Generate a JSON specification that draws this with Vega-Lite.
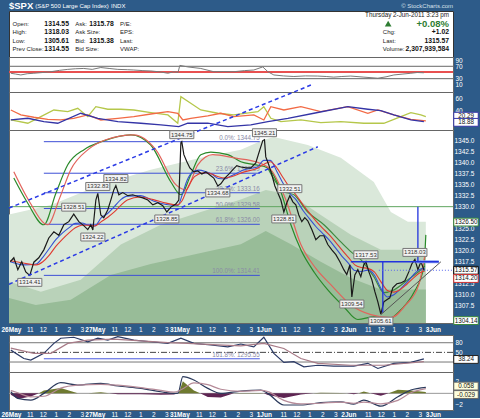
{
"$schema":"https://vega.github.io/schema/vega-lite/v6.json",
"background":"#2d5b89",
"padding":{"left":0,"top":0,"right":3,"bottom":0},
"bounds":"flush",
"spacing":0,
"resolve":{"scale":{"color":"independent","stroke":"independent"}},
"config":{"font":"Liberation Sans","view":{"stroke":"#666","fill":"white"},
"axis":{"labelColor":"white","labelFont":"Liberation Sans","labelFontSize":6.5,"domain":false,"grid":false,"ticks":false,"title":null,"labelPadding":2,"labelOverlap":false,"labelBound":false,"tickCount":200}},
"datasets":{
"price":[{"t":0,"p":1317.5},{"t":0.27,"p":1318.4},{"t":0.58,"p":1315.7},{"t":0.88,"p":1317.5},{"t":1.19,"p":1315.2},{"t":1.5,"p":1314.41},{"t":1.81,"p":1317.4},{"t":2.19,"p":1318.4},{"t":2.58,"p":1320.2},{"t":2.96,"p":1322.9},{"t":3.35,"p":1324.3},{"t":3.73,"p":1323.5},{"t":4.12,"p":1325.9},{"t":4.5,"p":1326.6},{"t":4.88,"p":1328.3},{"t":5.27,"p":1326.6},{"t":5.65,"p":1325.7},{"t":5.96,"p":1324.8},{"t":6.19,"p":1325.9},{"t":6.35,"p":1324.7},{"t":6.58,"p":1331.5},{"t":6.73,"p":1333.0},{"t":6.96,"p":1328.1},{"t":7.19,"p":1327.5},{"t":7.5,"p":1329.3},{"t":7.73,"p":1331.5},{"t":7.96,"p":1333.8},{"t":8.12,"p":1334.8},{"t":8.35,"p":1332.7},{"t":8.65,"p":1333.2},{"t":9.04,"p":1332.5},{"t":9.42,"p":1332.7},{"t":9.81,"p":1332.3},{"t":10.19,"p":1332.0},{"t":10.58,"p":1331.5},{"t":10.96,"p":1330.4},{"t":11.35,"p":1330.9},{"t":11.73,"p":1330.2},{"t":12.04,"p":1328.8},{"t":12.35,"p":1329.9},{"t":12.73,"p":1330.6},{"t":12.96,"p":1331.5},{"t":13.12,"p":1344.5},{"t":13.19,"p":1344.75},{"t":13.35,"p":1341.8},{"t":13.58,"p":1340.2},{"t":13.81,"p":1338.8},{"t":14.12,"p":1337.9},{"t":14.42,"p":1338.1},{"t":14.73,"p":1337.4},{"t":15.04,"p":1337.9},{"t":15.35,"p":1337.2},{"t":15.65,"p":1336.5},{"t":15.96,"p":1334.7},{"t":16.19,"p":1335.2},{"t":16.5,"p":1336.5},{"t":16.81,"p":1337.4},{"t":17.12,"p":1338.4},{"t":17.42,"p":1339.3},{"t":17.73,"p":1339.0},{"t":18.12,"p":1338.8},{"t":18.5,"p":1338.8},{"t":18.88,"p":1339.9},{"t":19.19,"p":1342.9},{"t":19.42,"p":1345.0},{"t":19.55,"p":1345.2},{"t":19.65,"p":1341.3},{"t":19.88,"p":1339.5},{"t":20.12,"p":1337.2},{"t":20.35,"p":1334.7},{"t":20.58,"p":1333.1},{"t":20.81,"p":1331.5},{"t":21.04,"p":1328.8},{"t":21.27,"p":1330.9},{"t":21.5,"p":1332.5},{"t":21.73,"p":1331.1},{"t":21.96,"p":1330.4},{"t":22.19,"p":1328.1},{"t":22.42,"p":1326.6},{"t":22.65,"p":1327.5},{"t":22.88,"p":1326.8},{"t":23.19,"p":1324.8},{"t":23.5,"p":1322.5},{"t":23.81,"p":1323.4},{"t":24.12,"p":1323.4},{"t":24.42,"p":1321.4},{"t":24.73,"p":1320.2},{"t":25.04,"p":1319.1},{"t":25.35,"p":1317.5},{"t":25.65,"p":1315.7},{"t":25.88,"p":1314.6},{"t":26.12,"p":1316.8},{"t":26.27,"p":1309.5},{"t":26.5,"p":1314.5},{"t":26.73,"p":1315.7},{"t":26.96,"p":1314.1},{"t":27.19,"p":1316.8},{"t":27.35,"p":1317.5},{"t":27.58,"p":1315.2},{"t":27.81,"p":1313.4},{"t":28.04,"p":1310.7},{"t":28.27,"p":1308.4},{"t":28.5,"p":1305.61},{"t":28.73,"p":1308.4},{"t":28.96,"p":1308.9},{"t":29.19,"p":1309.3},{"t":29.42,"p":1311.6},{"t":29.73,"p":1312.5},{"t":30.04,"p":1312.7},{"t":30.35,"p":1313.2},{"t":30.65,"p":1315.2},{"t":30.88,"p":1317.0},{"t":31.12,"p":1318.03},{"t":31.35,"p":1315.7},{"t":31.58,"p":1317.5},{"t":31.81,"p":1315.7},{"t":31.88,"p":1315.57}],
"overlays":[
{"s":"fast","t":0,"v":1317.5},{"s":"fast","t":1,"v":1316.8},{"s":"fast","t":2,"v":1317},{"s":"fast","t":2.5,"v":1318.5},{"s":"fast","t":3,"v":1320.5},{"s":"fast","t":3.5,"v":1322.5},{"s":"fast","t":4,"v":1324},{"s":"fast","t":4.5,"v":1325.2},{"s":"fast","t":5,"v":1326.2},{"s":"fast","t":5.5,"v":1326.3},{"s":"fast","t":6,"v":1325.8},{"s":"fast","t":6.5,"v":1325.6},{"s":"fast","t":7,"v":1327.5},{"s":"fast","t":7.5,"v":1328.5},{"s":"fast","t":8,"v":1330},{"s":"fast","t":8.5,"v":1331.6},{"s":"fast","t":9,"v":1332.4},{"s":"fast","t":10,"v":1332.5},{"s":"fast","t":11,"v":1331.3},{"s":"fast","t":12,"v":1330.5},{"s":"fast","t":12.9,"v":1330.3},{"s":"fast","t":13.2,"v":1332.5},{"s":"fast","t":13.6,"v":1336},{"s":"fast","t":14,"v":1337.8},{"s":"fast","t":14.5,"v":1338.3},{"s":"fast","t":15,"v":1338},{"s":"fast","t":15.5,"v":1337.4},{"s":"fast","t":16,"v":1336.4},{"s":"fast","t":16.5,"v":1336.3},{"s":"fast","t":17,"v":1337},{"s":"fast","t":18,"v":1338.4},{"s":"fast","t":19,"v":1339},{"s":"fast","t":19.5,"v":1340.5},{"s":"fast","t":20,"v":1340.5},{"s":"fast","t":20.5,"v":1338},{"s":"fast","t":21,"v":1335.2},{"s":"fast","t":21.5,"v":1333},{"s":"fast","t":22,"v":1331.5},{"s":"fast","t":22.5,"v":1329.2},{"s":"fast","t":23,"v":1327.3},{"s":"fast","t":23.5,"v":1325.5},{"s":"fast","t":24,"v":1324},{"s":"fast","t":24.5,"v":1322.5},{"s":"fast","t":25,"v":1320.7},{"s":"fast","t":25.5,"v":1318.8},{"s":"fast","t":26,"v":1317.2},{"s":"fast","t":26.5,"v":1315.5},{"s":"fast","t":27,"v":1315.3},{"s":"fast","t":27.5,"v":1315.6},{"s":"fast","t":28,"v":1314.5},{"s":"fast","t":28.5,"v":1311.5},{"s":"fast","t":29,"v":1309.5},{"s":"fast","t":29.5,"v":1310},{"s":"fast","t":30,"v":1311.3},{"s":"fast","t":30.5,"v":1312.8},{"s":"fast","t":31,"v":1314.5},{"s":"fast","t":31.5,"v":1315.8},{"s":"fast","t":31.88,"v":1316},
{"s":"slow","t":0,"v":1317.8},{"s":"slow","t":1,"v":1317.2},{"s":"slow","t":2,"v":1316.8},{"s":"slow","t":2.5,"v":1317.5},{"s":"slow","t":3,"v":1319},{"s":"slow","t":3.5,"v":1321},{"s":"slow","t":4,"v":1322.6},{"s":"slow","t":4.5,"v":1324},{"s":"slow","t":5,"v":1325.2},{"s":"slow","t":5.5,"v":1325.8},{"s":"slow","t":6,"v":1325.8},{"s":"slow","t":6.5,"v":1325.6},{"s":"slow","t":7,"v":1326.6},{"s":"slow","t":7.5,"v":1327.6},{"s":"slow","t":8,"v":1328.8},{"s":"slow","t":8.5,"v":1330.3},{"s":"slow","t":9,"v":1331.5},{"s":"slow","t":10,"v":1332.2},{"s":"slow","t":11,"v":1331.6},{"s":"slow","t":12,"v":1330.8},{"s":"slow","t":12.8,"v":1330.4},{"s":"slow","t":13.2,"v":1331.3},{"s":"slow","t":13.6,"v":1334},{"s":"slow","t":14,"v":1336.2},{"s":"slow","t":14.5,"v":1337.4},{"s":"slow","t":15,"v":1337.7},{"s":"slow","t":15.5,"v":1337.4},{"s":"slow","t":16,"v":1336.8},{"s":"slow","t":16.5,"v":1336.5},{"s":"slow","t":17,"v":1336.8},{"s":"slow","t":18,"v":1337.9},{"s":"slow","t":19,"v":1338.7},{"s":"slow","t":19.5,"v":1339.6},{"s":"slow","t":20,"v":1340.2},{"s":"slow","t":20.5,"v":1338.8},{"s":"slow","t":21,"v":1336.5},{"s":"slow","t":21.5,"v":1334.3},{"s":"slow","t":22,"v":1332.6},{"s":"slow","t":22.5,"v":1330.5},{"s":"slow","t":23,"v":1328.6},{"s":"slow","t":23.5,"v":1326.8},{"s":"slow","t":24,"v":1325.2},{"s":"slow","t":24.5,"v":1323.7},{"s":"slow","t":25,"v":1322},{"s":"slow","t":25.5,"v":1320.2},{"s":"slow","t":26,"v":1318.5},{"s":"slow","t":26.5,"v":1316.8},{"s":"slow","t":27,"v":1316.2},{"s":"slow","t":27.5,"v":1316},{"s":"slow","t":28,"v":1315.2},{"s":"slow","t":28.5,"v":1313},{"s":"slow","t":29,"v":1311},{"s":"slow","t":29.5,"v":1310.6},{"s":"slow","t":30,"v":1311.2},{"s":"slow","t":30.5,"v":1312.4},{"s":"slow","t":31,"v":1313.8},{"s":"slow","t":31.5,"v":1315},{"s":"slow","t":31.88,"v":1315.4},
{"s":"band","t":19.8,"v":1338.8},{"s":"band","t":21.04,"v":1333.4},{"s":"band","t":21.81,"v":1332.7},{"s":"band","t":22.88,"v":1328.8},{"s":"band","t":24.12,"v":1325.9},{"s":"band","t":25.42,"v":1322},{"s":"band","t":26.19,"v":1319.8},{"s":"band","t":26.96,"v":1318},{"s":"band","t":27.96,"v":1314.1},{"s":"band","t":28.73,"v":1310.5},{"s":"band","t":29.5,"v":1311.1},{"s":"band","t":30.58,"v":1313.4},{"s":"band","t":31.58,"v":1315.7},{"s":"band","t":31.88,"v":1316.5},
{"s":"envG","t":0.27,"v":1336.5},{"s":"envG","t":1.3,"v":1331},{"s":"envG","t":2.58,"v":1325.9},{"s":"envG","t":3.5,"v":1333},{"s":"envG","t":4.42,"v":1339.5},{"s":"envG","t":5.7,"v":1343},{"s":"envG","t":6.96,"v":1344.7},{"s":"envG","t":9.27,"v":1346.3},{"s":"envG","t":10.8,"v":1344},{"s":"envG","t":12.35,"v":1335.6},{"s":"envG","t":13.12,"v":1332.7},{"s":"envG","t":13.88,"v":1337.2},{"s":"envG","t":14.65,"v":1341.8},{"s":"envG","t":15.42,"v":1342.4},{"s":"envG","t":16.73,"v":1341.8},{"s":"envG","t":17.73,"v":1340.2},{"s":"envG","t":18.88,"v":1339.5},{"s":"envG","t":19.8,"v":1338.8},{"s":"envG","t":20.81,"v":1333.4},{"s":"envG","t":21.58,"v":1325.9},{"s":"envG","t":22.35,"v":1320.2},{"s":"envG","t":23.4,"v":1315},{"s":"envG","t":24.42,"v":1311.1},{"s":"envG","t":25.65,"v":1307.3},{"s":"envG","t":26.73,"v":1304.4},{"s":"envG","t":27.96,"v":1305},{"s":"envG","t":29.04,"v":1304.4},{"s":"envG","t":30.04,"v":1306.6},{"s":"envG","t":31.04,"v":1310.5},{"s":"envG","t":31.81,"v":1316.4},{"s":"envG","t":31.96,"v":1323.6},
{"s":"envR","t":0.27,"v":1337.9},{"s":"envR","t":1.5,"v":1331},{"s":"envR","t":2.88,"v":1325.9},{"s":"envR","t":3.8,"v":1332},{"s":"envR","t":4.65,"v":1338.4},{"s":"envR","t":6,"v":1343},{"s":"envR","t":7.35,"v":1345.2},{"s":"envR","t":9.5,"v":1346.3},{"s":"envR","t":11.2,"v":1342.9},{"s":"envR","t":12.73,"v":1335},{"s":"envR","t":13.5,"v":1333.8},{"s":"envR","t":14.42,"v":1339.5},{"s":"envR","t":15.58,"v":1341.8},{"s":"envR","t":17.35,"v":1341},{"s":"envR","t":18.88,"v":1340.2},{"s":"envR","t":20.04,"v":1338.4},{"s":"envR","t":21.2,"v":1331.5},{"s":"envR","t":22.35,"v":1321.4},{"s":"envR","t":23.5,"v":1316},{"s":"envR","t":24.65,"v":1312.3},{"s":"envR","t":26.19,"v":1307.7},{"s":"envR","t":27.73,"v":1305.5},{"s":"envR","t":29.27,"v":1304.8},{"s":"envR","t":30.42,"v":1307.7},{"s":"envR","t":31.42,"v":1312.3},{"s":"envR","t":31.96,"v":1320.2}],
"bands":[
{"zone":"outer","t":-0.1,"p":1328.2},{"zone":"outer","t":3.12,"p":1330.4},{"zone":"outer","t":6.96,"p":1335},{"zone":"outer","t":10.8,"p":1338.4},{"zone":"outer","t":14.65,"p":1341.1},{"zone":"outer","t":17.73,"p":1342.9},{"zone":"outer","t":19.5,"p":1345.2},{"zone":"outer","t":20.27,"p":1345.8},{"zone":"outer","t":22.88,"p":1344},{"zone":"outer","t":25.42,"p":1341.1},{"zone":"outer","t":27.96,"p":1335.6},{"zone":"outer","t":29.27,"p":1328.8},{"zone":"outer","t":30.58,"p":1326.6},{"zone":"outer","t":31.96,"p":1326.6},
{"zone":"middle","t":-0.1,"p":1313},{"zone":"middle","t":2.35,"p":1310.7},{"zone":"middle","t":5.42,"p":1313.4},{"zone":"middle","t":8.5,"p":1321.4},{"zone":"middle","t":11.58,"p":1325.9},{"zone":"middle","t":14.65,"p":1328.8},{"zone":"middle","t":17.73,"p":1331.6},{"zone":"middle","t":19.65,"p":1333.8},{"zone":"middle","t":21.58,"p":1332.7},{"zone":"middle","t":23.88,"p":1328.1},{"zone":"middle","t":26.19,"p":1323.6},{"zone":"middle","t":28.5,"p":1320.2},{"zone":"middle","t":30.81,"p":1320.2},{"zone":"middle","t":31.96,"p":1320.2},
{"zone":"inner","t":-0.1,"p":1309.3},{"zone":"inner","t":1.96,"p":1307.7},{"zone":"inner","t":4.65,"p":1308.9},{"zone":"inner","t":7.73,"p":1314.5},{"zone":"inner","t":10.8,"p":1317},{"zone":"inner","t":14.65,"p":1319.5},{"zone":"inner","t":17.73,"p":1321.5},{"zone":"inner","t":19.65,"p":1324.5},{"zone":"inner","t":21.58,"p":1321.5},{"zone":"inner","t":23.88,"p":1317.5},{"zone":"inner","t":26.19,"p":1313.8},{"zone":"inner","t":28.5,"p":1311.2},{"zone":"inner","t":30.81,"p":1311.2},{"zone":"inner","t":31.96,"p":1311.2}],
"fib":[{"level":"0.0%","price":1344.75},{"level":"23.6%","price":1337.59},{"level":"38.2%","price":1333.16},{"level":"50.0%","price":1329.58},{"level":"61.8%","price":1326.00},{"level":"100.0%","price":1314.41}],
"pivots":[{"kind":"high","t":13.19,"p":1344.75,"label":"1344.75"},{"kind":"high","t":19.55,"p":1345.2,"label":"1345.21"},{"kind":"high","t":4.88,"p":1328.3,"label":"1328.51"},{"kind":"high","t":6.73,"p":1333.0,"label":"1332.83"},{"kind":"high","t":8.12,"p":1334.8,"label":"1334.82"},{"kind":"high","t":21.5,"p":1332.5,"label":"1332.51"},{"kind":"high","t":27.35,"p":1317.5,"label":"1317.53"},{"kind":"high","t":31.12,"p":1318.03,"label":"1318.03"},
{"kind":"low","t":1.5,"p":1314.41,"label":"1314.41"},{"kind":"low","t":6.35,"p":1324.7,"label":"1324.22"},{"kind":"low","t":12.04,"p":1328.8,"label":"1328.85"},{"kind":"low","t":15.96,"p":1334.7,"label":"1334.68"},{"kind":"low","t":21.04,"p":1328.8,"label":"1328.81"},{"kind":"low","t":26.27,"p":1309.5,"label":"1309.54"},{"kind":"low","t":28.5,"p":1305.61,"label":"1305.61"}],
"lines":[{"kind":"trendUp","t1":-0.1,"p1":1329.7,"t2":23.12,"p2":1357.6},{"kind":"trendLow","t1":-0.1,"p1":1312.4,"t2":23.65,"p2":1343.6},
{"kind":"blue","t1":26.19,"p1":1317.5,"t2":32.96,"p2":1317.5},{"kind":"blue","t1":28.65,"p1":1317.5,"t2":28.65,"p2":1305.9},{"kind":"blue","t1":31.35,"p1":1330,"t2":31.35,"p2":1317.5},
{"kind":"light","t1":31.2,"p1":1317.5,"t2":32.96,"p2":1317.5},{"kind":"gray","t1":28.5,"p1":1305.5,"t2":33.12,"p2":1317.5},{"kind":"dotted","t1":28.35,"p1":1315.57,"t2":34.05,"p2":1315.57}],
"rsi":[{"t":0.04,"v":47.5},{"t":0.4,"v":45},{"t":0.81,"v":42},{"t":1.3,"v":46},{"t":1.81,"v":47.5},{"t":2.5,"v":50},{"t":3.12,"v":52.5},{"t":3.8,"v":57},{"t":4.42,"v":60},{"t":5.0,"v":62},{"t":5.65,"v":63},{"t":6.3,"v":60},{"t":6.96,"v":66},{"t":7.6,"v":63},{"t":8.27,"v":60},{"t":9.0,"v":59},{"t":9.5,"v":58},{"t":10.2,"v":56},{"t":10.81,"v":55},{"t":11.5,"v":52},{"t":12.12,"v":47.5},{"t":12.58,"v":52.5},{"t":12.9,"v":50},{"t":13.04,"v":73},{"t":13.65,"v":68},{"t":14.65,"v":63},{"t":15.65,"v":52.5},{"t":16.4,"v":53},{"t":17.19,"v":52.5},{"t":18.0,"v":56},{"t":18.73,"v":58},{"t":19.42,"v":68},{"t":19.81,"v":52.5},{"t":20.27,"v":42},{"t":21.0,"v":39},{"t":21.81,"v":37},{"t":22.7,"v":39},{"t":23.65,"v":38.5},{"t":24.3,"v":37},{"t":24.88,"v":35},{"t":25.5,"v":37},{"t":26.19,"v":38.5},{"t":27.2,"v":35},{"t":28.27,"v":31.5},{"t":28.9,"v":36},{"t":29.5,"v":42},{"t":30.2,"v":45},{"t":30.81,"v":47.5},{"t":31.3,"v":50},{"t":31.81,"v":49}],
"adx":[{"s":"+DI","t":0.04,"v":22.8},{"s":"+DI","t":1.35,"v":17},{"s":"+DI","t":2.35,"v":28.7},{"s":"+DI","t":3.35,"v":40.5},{"s":"+DI","t":4.42,"v":37.5},{"s":"+DI","t":5.19,"v":43.5},{"s":"+DI","t":5.96,"v":28.7},{"s":"+DI","t":6.58,"v":46.4},{"s":"+DI","t":7.5,"v":41.8},{"s":"+DI","t":8.5,"v":41.8},{"s":"+DI","t":9.5,"v":40.5},{"s":"+DI","t":10.81,"v":35.8},{"s":"+DI","t":12.12,"v":31.7},{"s":"+DI","t":12.88,"v":17},{"s":"+DI","t":13.12,"v":64},{"s":"+DI","t":13.88,"v":52.4},{"s":"+DI","t":14.65,"v":40.5},{"s":"+DI","t":15.96,"v":34.7},{"s":"+DI","t":17.19,"v":31.7},{"s":"+DI","t":19.04,"v":37.5},{"s":"+DI","t":19.5,"v":46.4},{"s":"+DI","t":20.04,"v":25.8},{"s":"+DI","t":20.81,"v":19.8},{"s":"+DI","t":22.35,"v":22.8},{"s":"+DI","t":23.88,"v":18},{"s":"+DI","t":25.42,"v":19.8},{"s":"+DI","t":27.19,"v":17},{"s":"+DI","t":28.73,"v":17},{"s":"+DI","t":30.04,"v":28.7},{"s":"+DI","t":30.81,"v":35.8},{"s":"+DI","t":31.58,"v":31.7},{"s":"+DI","t":31.96,"v":28.7},
{"s":"-DI","t":0.04,"v":40.5},{"s":"-DI","t":0.81,"v":31.7},{"s":"-DI","t":1.81,"v":27.6},{"s":"-DI","t":2.88,"v":24},{"s":"-DI","t":3.88,"v":22.8},{"s":"-DI","t":4.88,"v":25.8},{"s":"-DI","t":5.96,"v":31.7},{"s":"-DI","t":6.96,"v":22.8},{"s":"-DI","t":8.27,"v":25.8},{"s":"-DI","t":9.5,"v":28.7},{"s":"-DI","t":10.81,"v":33.4},{"s":"-DI","t":12.12,"v":37.5},{"s":"-DI","t":12.88,"v":34.7},{"s":"-DI","t":13.27,"v":22.8},{"s":"-DI","t":13.88,"v":25.8},{"s":"-DI","t":15.19,"v":29.9},{"s":"-DI","t":16.19,"v":34.7},{"s":"-DI","t":17.19,"v":28.7},{"s":"-DI","t":18.73,"v":31.7},{"s":"-DI","t":19.5,"v":22.8},{"s":"-DI","t":20.04,"v":46.4},{"s":"-DI","t":21.04,"v":40.5},{"s":"-DI","t":22.35,"v":46.4},{"s":"-DI","t":23.88,"v":37.5},{"s":"-DI","t":25.96,"v":46.4},{"s":"-DI","t":27.5,"v":34.7},{"s":"-DI","t":28.27,"v":40.5},{"s":"-DI","t":29.5,"v":31.7},{"s":"-DI","t":30.81,"v":24},{"s":"-DI","t":31.96,"v":21},
{"s":"ADX","t":0.04,"v":22.8},{"s":"ADX","t":1.35,"v":25.8},{"s":"ADX","t":2.58,"v":19.8},{"s":"ADX","t":3.65,"v":17},{"s":"ADX","t":5.42,"v":34.7},{"s":"ADX","t":6.73,"v":25.8},{"s":"ADX","t":8.27,"v":19.8},{"s":"ADX","t":10.04,"v":17},{"s":"ADX","t":11.58,"v":14},{"s":"ADX","t":12.96,"v":11},{"s":"ADX","t":13.65,"v":17},{"s":"ADX","t":15.19,"v":17},{"s":"ADX","t":16.73,"v":11},{"s":"ADX","t":18.5,"v":14},{"s":"ADX","t":19.81,"v":19.8},{"s":"ADX","t":21.35,"v":25.8},{"s":"ADX","t":23.35,"v":34.7},{"s":"ADX","t":25.96,"v":46.4},{"s":"ADX","t":27.5,"v":41.8},{"s":"ADX","t":28.5,"v":39.3},{"s":"ADX","t":29.5,"v":31.7},{"s":"ADX","t":30.81,"v":22.8},{"s":"ADX","t":31.81,"v":19.8}],
"osc":[{"s":"fast","t":0.04,"v":57},{"s":"fast","t":1.04,"v":31},{"s":"fast","t":1.58,"v":26},{"s":"fast","t":2.58,"v":47},{"s":"fast","t":3.35,"v":78},{"s":"fast","t":3.88,"v":94},{"s":"fast","t":4.88,"v":97},{"s":"fast","t":5.96,"v":83},{"s":"fast","t":6.73,"v":94},{"s":"fast","t":7.5,"v":88},{"s":"fast","t":8.27,"v":99},{"s":"fast","t":9.5,"v":88},{"s":"fast","t":10.81,"v":83},{"s":"fast","t":12.12,"v":78},{"s":"fast","t":13.12,"v":94},{"s":"fast","t":14.12,"v":78},{"s":"fast","t":15.42,"v":73},{"s":"fast","t":16.73,"v":67},{"s":"fast","t":17.73,"v":76},{"s":"fast","t":18.73,"v":67},{"s":"fast","t":19.5,"v":97},{"s":"fast","t":20.27,"v":47},{"s":"fast","t":21.04,"v":19},{"s":"fast","t":21.81,"v":21},{"s":"fast","t":22.58,"v":5},{"s":"fast","t":23.65,"v":10},{"s":"fast","t":24.88,"v":7},{"s":"fast","t":26.42,"v":7},{"s":"fast","t":27.5,"v":16},{"s":"fast","t":28.27,"v":0},{"s":"fast","t":29.5,"v":16},{"s":"fast","t":30.81,"v":19},{"s":"fast","t":31.81,"v":30},
{"s":"slow","t":0.04,"v":63},{"s":"slow","t":1.81,"v":47},{"s":"slow","t":3.12,"v":47},{"s":"slow","t":4.42,"v":78},{"s":"slow","t":5.96,"v":88},{"s":"slow","t":7.96,"v":91},{"s":"slow","t":10.04,"v":86},{"s":"slow","t":12.12,"v":80},{"s":"slow","t":13.65,"v":78},{"s":"slow","t":15.96,"v":73},{"s":"slow","t":17.73,"v":70},{"s":"slow","t":19.5,"v":78},{"s":"slow","t":21.04,"v":62},{"s":"slow","t":22.35,"v":31},{"s":"slow","t":23.65,"v":16},{"s":"slow","t":26.19,"v":10},{"s":"slow","t":28.73,"v":10},{"s":"slow","t":31.81,"v":21}],
"macd":[{"s":"macd","t":0.04,"v":0.28},{"s":"macd","t":0.58,"v":-0.86},{"s":"macd","t":1.58,"v":-1.16},{"s":"macd","t":2.58,"v":0},{"s":"macd","t":3.88,"v":1.83},{"s":"macd","t":5.19,"v":1.43},{"s":"macd","t":6.96,"v":1.72},{"s":"macd","t":8.27,"v":1.26},{"s":"macd","t":10.04,"v":0.86},{"s":"macd","t":11.58,"v":0.28},{"s":"macd","t":12.58,"v":0},{"s":"macd","t":12.9,"v":0.05},{"s":"macd","t":13.27,"v":2.86},{"s":"macd","t":14.12,"v":2.3},{"s":"macd","t":15.19,"v":0.86},{"s":"macd","t":16.19,"v":0},{"s":"macd","t":17.73,"v":0.4},{"s":"macd","t":19.27,"v":0.57},{"s":"macd","t":19.81,"v":0},{"s":"macd","t":21.04,"v":-2},{"s":"macd","t":22.35,"v":-2},{"s":"macd","t":23.88,"v":-1.6},{"s":"macd","t":25.42,"v":-1.45},{"s":"macd","t":26.42,"v":-1.85},{"s":"macd","t":27.19,"v":-1.16},{"s":"macd","t":28.5,"v":-2.2},{"s":"macd","t":29.81,"v":-0.58},{"s":"macd","t":30.81,"v":0.57},{"s":"macd","t":31.96,"v":1.04},
{"s":"signal","t":0.04,"v":0.5},{"s":"signal","t":0.58,"v":0.1},{"s":"signal","t":1.58,"v":-0.6},{"s":"signal","t":2.58,"v":-0.5},{"s":"signal","t":3.88,"v":0.9},{"s":"signal","t":5.19,"v":1.4},{"s":"signal","t":6.96,"v":1.55},{"s":"signal","t":8.27,"v":1.4},{"s":"signal","t":10.04,"v":1.0},{"s":"signal","t":11.58,"v":0.5},{"s":"signal","t":12.58,"v":0.2},{"s":"signal","t":13.27,"v":0.8},{"s":"signal","t":14.12,"v":1.8},{"s":"signal","t":15.19,"v":1.5},{"s":"signal","t":16.19,"v":0.7},{"s":"signal","t":17.73,"v":0.35},{"s":"signal","t":19.27,"v":0.5},{"s":"signal","t":19.81,"v":0.3},{"s":"signal","t":21.04,"v":-1.2},{"s":"signal","t":22.35,"v":-1.8},{"s":"signal","t":23.88,"v":-1.7},{"s":"signal","t":25.42,"v":-1.5},{"s":"signal","t":26.42,"v":-1.7},{"s":"signal","t":27.19,"v":-1.5},{"s":"signal","t":28.5,"v":-1.8},{"s":"signal","t":29.81,"v":-1.2},{"s":"signal","t":30.81,"v":0.1},{"s":"signal","t":31.96,"v":0.8}],
"hist":[{"sign":"pos","t":0.04,"h":0},{"sign":"pos","t":2.2,"h":0},{"sign":"pos","t":2.58,"h":0.5},{"sign":"pos","t":3.88,"h":0.93},{"sign":"pos","t":5.19,"h":0.03},{"sign":"pos","t":6.0,"h":0},{"sign":"pos","t":6.96,"h":0.17},{"sign":"pos","t":7.6,"h":0},{"sign":"pos","t":12.95,"h":0},{"sign":"pos","t":13.27,"h":2.06},{"sign":"pos","t":14.12,"h":0.5},{"sign":"pos","t":14.6,"h":0},{"sign":"pos","t":17.2,"h":0},{"sign":"pos","t":17.73,"h":0.05},{"sign":"pos","t":19.27,"h":0.07},{"sign":"pos","t":19.5,"h":0},{"sign":"pos","t":23.3,"h":0},{"sign":"pos","t":23.88,"h":0.1},{"sign":"pos","t":25.42,"h":0.05},{"sign":"pos","t":25.9,"h":0},{"sign":"pos","t":26.8,"h":0},{"sign":"pos","t":27.19,"h":0.34},{"sign":"pos","t":27.7,"h":0},{"sign":"pos","t":29.1,"h":0},{"sign":"pos","t":29.81,"h":0.62},{"sign":"pos","t":30.81,"h":0.47},{"sign":"pos","t":31.96,"h":0.24},
{"sign":"neg","t":0.04,"h":-0.22},{"sign":"neg","t":0.58,"h":-0.96},{"sign":"neg","t":1.58,"h":-0.56},{"sign":"neg","t":2.2,"h":0},{"sign":"neg","t":7.6,"h":0},{"sign":"neg","t":8.27,"h":-0.14},{"sign":"neg","t":10.04,"h":-0.14},{"sign":"neg","t":11.58,"h":-0.22},{"sign":"neg","t":12.58,"h":-0.2},{"sign":"neg","t":12.95,"h":0},{"sign":"neg","t":14.6,"h":0},{"sign":"neg","t":15.19,"h":-0.64},{"sign":"neg","t":16.19,"h":-0.7},{"sign":"neg","t":17.2,"h":0},{"sign":"neg","t":19.5,"h":0},{"sign":"neg","t":19.81,"h":-0.3},{"sign":"neg","t":21.04,"h":-0.8},{"sign":"neg","t":22.35,"h":-0.2},{"sign":"neg","t":23.3,"h":0},{"sign":"neg","t":25.9,"h":0},{"sign":"neg","t":26.42,"h":-0.15},{"sign":"neg","t":26.8,"h":0},{"sign":"neg","t":27.7,"h":0},{"sign":"neg","t":28.5,"h":-0.4},{"sign":"neg","t":29.1,"h":0},{"sign":"neg","t":31.96,"h":0}]
},
"vconcat":[
{"width":444,"height":11,"view":{"stroke":null,"fill":null},
 "encoding":{"x":{"field":"col","type":"quantitative","scale":{"domain":[0,100],"nice":false},"axis":null}},
 "layer":[
  {"data":{"values":[{"col":0,"text":"$SPX"}]},"mark":{"type":"text","align":"left","baseline":"middle","fontSize":9.5,"fontWeight":"bold","color":"white"},"encoding":{"text":{"field":"text"}}},
  {"data":{"values":[{"col":5.9,"text":"(S&P 500 Large Cap Index)"},{"col":23,"text":"INDX"}]},"mark":{"type":"text","align":"left","baseline":"middle","fontSize":6,"color":"white"},"encoding":{"text":{"field":"text"}}},
  {"data":{"values":[{"col":100,"text":"© StockCharts.com"}]},"mark":{"type":"text","align":"right","baseline":"middle","fontSize":6,"color":"#d8e0ea"},"encoding":{"text":{"field":"text"}}}
 ]},
{"width":444,"height":46,"view":{"stroke":"#333","fill":"white"},
 "encoding":{"x":{"field":"col","type":"quantitative","scale":{"domain":[0,100],"nice":false},"axis":null},
   "y":{"field":"row","type":"ordinal","scale":{"domain":["date","r1","r2","r3","r4"],"range":[4,38.3],"padding":0},"axis":null}},
 "layer":[
  {"data":{"values":[{"col":0.8,"row":"r1","text":"Open:"},{"col":0.8,"row":"r2","text":"High:"},{"col":0.8,"row":"r3","text":"Low:"},{"col":0.8,"row":"r4","text":"Prev Close:"},{"col":14.9,"row":"r1","text":"Ask:"},{"col":14.9,"row":"r2","text":"Ask Size:"},{"col":14.9,"row":"r3","text":"Bid:"},{"col":14.9,"row":"r4","text":"Bid Size:"},{"col":25,"row":"r1","text":"P/E:"},{"col":25,"row":"r2","text":"EPS:"},{"col":25,"row":"r3","text":"Last:"},{"col":25,"row":"r4","text":"VWAP:"},{"col":84.2,"row":"r2","text":"Chg:"},{"col":84.2,"row":"r3","text":"Last:"},{"col":84.2,"row":"r4","text":"Volume:"}]},
   "mark":{"type":"text","align":"left","baseline":"middle","fontSize":6,"color":"#222"},"encoding":{"text":{"field":"text"}}},
  {"data":{"values":[{"col":13.5,"row":"r1","text":"1314.55"},{"col":13.5,"row":"r2","text":"1318.03"},{"col":13.5,"row":"r3","text":"1305.61"},{"col":13.5,"row":"r4","text":"1314.55"},{"col":23.6,"row":"r1","text":"1315.78"},{"col":23.6,"row":"r3","text":"1315.38"},{"col":99.1,"row":"r2","text":"+1.02"},{"col":99.1,"row":"r3","text":"1315.57"},{"col":99.1,"row":"r4","text":"2,307,939,584"}]},
   "mark":{"type":"text","align":"right","baseline":"middle","fontSize":6.8,"fontWeight":"bold","color":"#111"},"encoding":{"text":{"field":"text"}}},
  {"data":{"values":[{"col":99.1,"row":"date","text":"Thursday  2-Jun-2011  3:23 pm"}]},"mark":{"type":"text","align":"right","baseline":"middle","fontSize":6.3,"color":"#222"},"encoding":{"text":{"field":"text"}}},
  {"data":{"values":[{"col":99.1,"row":"r1","text":"+0.08%"}]},"mark":{"type":"text","align":"right","baseline":"middle","fontSize":9.5,"fontWeight":"bold","color":"#2e7d32"},"encoding":{"text":{"field":"text"}}},
  {"data":{"values":[{"col":85.4,"row":"r1"}]},"mark":{"type":"point","shape":"triangle-up","filled":true,"color":"#2e7d32","size":45,"opacity":1}}
 ]},
{"width":444,"height":35,
 "encoding":{"x":{"field":"t","type":"quantitative","scale":{"domain":[-0.1,34.05],"nice":false,"zero":false},"axis":null}},
 "layer":[
  {"data":{"values":[{"lvl":70},{"lvl":30}]},"mark":{"type":"rule","color":"#666","strokeWidth":1},"encoding":{"x":null,"y":{"field":"lvl","type":"quantitative","scale":{"domain":[-13,100],"nice":false,"zero":false},"axis":{"orient":"right","values":[10,30,70,90],"format":"d","labelOverlap":false,"tickCount":200}}}},
  {"data":{"values":[{"lvl":51.49}]},"mark":{"type":"rule","color":"#e85050","strokeWidth":2},"encoding":{"x":null,"y":{"field":"lvl","type":"quantitative"}}},
  {"data":{"name":"rsi"},"mark":{"type":"line","color":"#7a7a7a","strokeWidth":1},"encoding":{"y":{"field":"v","type":"quantitative"}}},
  {"data":{"values":[{"v":51.49,"label":"51.49"}]},"mark":{"type":"point","shape":"M-1,-0.32L1,-0.32L1,0.32L-1,0.32Z","size":600,"filled":false,"fill":"#ffffcc","fillOpacity":1,"stroke":"#b8c84a","strokeWidth":1,"opacity":1,"xOffset":13},"encoding":{"x":{"datum":34.05,"type":"quantitative"},"y":{"field":"v","type":"quantitative"}}},
  {"data":{"values":[{"v":51.49,"label":"51.49"}]},"mark":{"type":"text","fontSize":6.3,"color":"#111","xOffset":13},"encoding":{"x":{"datum":34.05,"type":"quantitative"},"y":{"field":"v","type":"quantitative"},"text":{"field":"label"}}}
 ]},
{"width":444,"height":38,
 "layer":[
  {"data":{"name":"adx"},"mark":{"type":"line","strokeWidth":1.3},"encoding":{"x":{"field":"t","type":"quantitative","scale":{"domain":[-0.1,34.05],"nice":false,"zero":false},"axis":null},"y":{"field":"v","type":"quantitative","scale":{"domain":[5,72.4],"nice":false,"zero":false},"axis":{"orient":"right","values":[40,60],"format":"d","labelOverlap":false,"tickCount":200}},"color":{"field":"s","type":"nominal","scale":{"domain":["+DI","-DI","ADX"],"range":["#b5c74a","#f26a45","#3434a6"]},"legend":null}}},
  {"data":{"values":[{"v":29.5,"label":"20.29"},{"v":18.6,"label":"18.88"}]},"mark":{"type":"point","shape":"M-1,-0.32L1,-0.32L1,0.32L-1,0.32Z","size":600,"filled":false,"fill":"white","fillOpacity":1,"stroke":"#3434a6","strokeWidth":1,"opacity":1,"xOffset":13},"encoding":{"x":{"datum":34.05,"type":"quantitative"},"y":{"field":"v","type":"quantitative"}}},
  {"data":{"values":[{"v":29.5,"label":"20.29"},{"v":18.6,"label":"18.88"}]},"mark":{"type":"text","fontSize":6.3,"color":"#111","xOffset":13},"encoding":{"x":{"datum":34.05,"type":"quantitative"},"y":{"field":"v","type":"quantitative"},"text":{"field":"label"}}}
 ]},
{"width":444,"height":193,
 "layer":[
  {"data":{"name":"bands"},"transform":[{"filter":"datum.zone == 'outer'"}],"mark":{"type":"area","clip":true,"color":"#dae8da","opacity":1},"encoding":{"x":{"field":"t","type":"quantitative","scale":{"domain":[-0.1,34.05],"nice":false,"zero":false},"axis":{"orient":"bottom","values":[0,1.5,2.5,3.5,4.5,5.5,6.5,8,9,10,11,12,13,14.5,15.5,16.5,17.5,18.5,19.5,21,22,23,24,25,26,27.5,28.5,29.5,30.5,31.5,32.5],"labelExpr":"datum.value % 6.5 == 0 ? ['26May','27May','31May','1Jun','2Jun','3Jun'][round(datum.value/6.5)] : (round(datum.value % 6.5 + 9.5) > 12 ? round(datum.value % 6.5 + 9.5) - 12 : round(datum.value % 6.5 + 9.5)) + ''","labelFontWeight":{"condition":{"test":"datum.value % 6.5 == 0","value":"bold"},"value":"normal"},"labelAlign":{"condition":{"test":"datum.value == 0","value":"left"},"value":"center"},"labelOffset":{"condition":{"test":"datum.value == 0","value":-9.3},"value":0},"labelPadding":3,"labelOverlap":false,"tickCount":200}},"y":{"field":"p","type":"quantitative","scale":{"domain":[1303.6,1347.4],"nice":false,"zero":false},"axis":{"orient":"right","values":[1307.5,1310,1312.5,1317.5,1320,1322.5,1325,1330,1332.5,1335,1337.5,1340,1342.5,1345],"format":".1f","labelPadding":1,"labelOverlap":false,"tickCount":200}},"y2":{"datum":1303.6}}},
  {"data":{"name":"bands"},"transform":[{"filter":"datum.zone == 'middle'"}],"mark":{"type":"area","clip":true,"color":"#b9d2b9","opacity":1},"encoding":{"x":{"field":"t","type":"quantitative"},"y":{"field":"p","type":"quantitative"},"y2":{"datum":1303.6}}},
  {"data":{"name":"bands"},"transform":[{"filter":"datum.zone == 'inner'"}],"mark":{"type":"area","clip":true,"color":"#98bc98","opacity":1},"encoding":{"x":{"field":"t","type":"quantitative"},"y":{"field":"p","type":"quantitative"},"y2":{"datum":1303.6}}},
  {"data":{"values":[{"lvl":1330}]},"mark":{"type":"rule","color":"#5fa55f","strokeWidth":1},"encoding":{"y":{"field":"lvl","type":"quantitative"}}},
  {"data":{"name":"fib"},"mark":{"type":"rule","color":"#3e4fd6","strokeWidth":1},"encoding":{"x":{"datum":2.58,"type":"quantitative"},"x2":{"datum":19.19},"y":{"field":"price","type":"quantitative"}}},
  {"data":{"name":"fib"},"transform":[{"calculate":"datum.level + ': ' + format(datum.price, '.2f')","as":"label"}],"mark":{"type":"text","align":"right","baseline":"bottom","dy":-1,"fontSize":6.3,"color":"#8a8aa6"},"encoding":{"x":{"datum":19.19,"type":"quantitative"},"y":{"field":"price","type":"quantitative"},"text":{"field":"label"}}},
  {"data":{"name":"overlays"},"transform":[{"filter":"datum.s == 'envG' || datum.s == 'envR' || datum.s == 'band'"}],"mark":{"type":"line","clip":true,"strokeWidth":1.2,"interpolate":"monotone"},"encoding":{"x":{"field":"t","type":"quantitative"},"y":{"field":"v","type":"quantitative"},"color":{"field":"s","type":"nominal","scale":{"domain":["envG","envR","band","fast","slow"],"range":["#2a8a2a","#e2645c","#3f8a3f","#3550d2","#e03a30"]},"legend":null}}},
  {"data":{"name":"overlays"},"transform":[{"filter":"datum.s == 'fast' || datum.s == 'slow'"}],"mark":{"type":"line","clip":true,"strokeWidth":1.1,"interpolate":"monotone"},"encoding":{"x":{"field":"t","type":"quantitative"},"y":{"field":"v","type":"quantitative"},"color":{"field":"s","type":"nominal","legend":null}}},
  {"data":{"name":"price"},"mark":{"type":"line","clip":true,"color":"#1a1a1a","strokeWidth":1.2},"encoding":{"x":{"field":"t","type":"quantitative"},"y":{"field":"p","type":"quantitative"}}},
  {"data":{"name":"lines"},"transform":[{"filter":"datum.kind == 'trendUp'"}],"mark":{"type":"rule","clip":false,"color":"#2a3ae6","strokeWidth":1.5,"strokeDash":[4,3]},"encoding":{"x":{"field":"t1","type":"quantitative"},"y":{"field":"p1","type":"quantitative"},"x2":{"field":"t2"},"y2":{"field":"p2"}}},
  {"data":{"name":"lines"},"transform":[{"filter":"datum.kind == 'trendLow'"}],"mark":{"type":"rule","clip":true,"color":"#2a3ae6","strokeWidth":1.5,"strokeDash":[4,3]},"encoding":{"x":{"field":"t1","type":"quantitative"},"y":{"field":"p1","type":"quantitative"},"x2":{"field":"t2"},"y2":{"field":"p2"}}},
  {"data":{"name":"lines"},"transform":[{"filter":"datum.kind == 'light'"}],"mark":{"type":"rule","color":"#8ea6f2","strokeWidth":3},"encoding":{"x":{"field":"t1","type":"quantitative"},"y":{"field":"p1","type":"quantitative"},"x2":{"field":"t2"},"y2":{"field":"p2"}}},
  {"data":{"name":"lines"},"transform":[{"filter":"datum.kind == 'blue'"}],"mark":{"type":"rule","color":"#2233dd","strokeWidth":1.3},"encoding":{"x":{"field":"t1","type":"quantitative"},"y":{"field":"p1","type":"quantitative"},"x2":{"field":"t2"},"y2":{"field":"p2"}}},
  {"data":{"name":"lines"},"transform":[{"filter":"datum.kind == 'gray'"}],"mark":{"type":"rule","color":"#555","strokeWidth":1},"encoding":{"x":{"field":"t1","type":"quantitative"},"y":{"field":"p1","type":"quantitative"},"x2":{"field":"t2"},"y2":{"field":"p2"}}},
  {"data":{"name":"lines"},"transform":[{"filter":"datum.kind == 'dotted'"}],"mark":{"type":"rule","color":"#5566ee","strokeWidth":1,"strokeDash":[1,2]},"encoding":{"x":{"field":"t1","type":"quantitative"},"y":{"field":"p1","type":"quantitative"},"x2":{"field":"t2"},"y2":{"field":"p2"}}},
  {"data":{"name":"pivots"},"transform":[{"filter":"datum.kind == 'high'"}],"mark":{"type":"point","shape":"M-1,-0.33L1,-0.33L1,0.33L-1,0.33Z","size":580,"filled":false,"fill":"#f2f2f2","fillOpacity":1,"stroke":"#777","strokeWidth":1,"opacity":1,"yOffset":-7},"encoding":{"x":{"field":"t","type":"quantitative"},"y":{"field":"p","type":"quantitative"}}},
  {"data":{"name":"pivots"},"transform":[{"filter":"datum.kind == 'high'"}],"mark":{"type":"text","fontSize":6,"color":"#333","yOffset":-7},"encoding":{"x":{"field":"t","type":"quantitative"},"y":{"field":"p","type":"quantitative"},"text":{"field":"label"}}},
  {"data":{"name":"pivots"},"transform":[{"filter":"datum.kind == 'low'"}],"mark":{"type":"point","shape":"M-1,-0.33L1,-0.33L1,0.33L-1,0.33Z","size":580,"filled":false,"fill":"#f2f2f2","fillOpacity":1,"stroke":"#777","strokeWidth":1,"opacity":1,"yOffset":7},"encoding":{"x":{"field":"t","type":"quantitative"},"y":{"field":"p","type":"quantitative"}}},
  {"data":{"name":"pivots"},"transform":[{"filter":"datum.kind == 'low'"}],"mark":{"type":"text","fontSize":6,"color":"#333","yOffset":7},"encoding":{"x":{"field":"t","type":"quantitative"},"y":{"field":"p","type":"quantitative"},"text":{"field":"label"}}},
  {"data":{"values":[{"s":"upper","v":1326.5,"label":"1326.50"},{"s":"last","v":1315.57,"label":"1315.57"},{"s":"ma","v":1313.7,"label":"1314.20"},{"s":"lower","v":1304.14,"label":"1304.14"}]},"mark":{"type":"point","shape":"M-1,-0.32L1,-0.32L1,0.32L-1,0.32Z","size":600,"filled":false,"fill":"white","fillOpacity":1,"strokeWidth":1,"opacity":1,"xOffset":13},"encoding":{"x":{"datum":34.05,"type":"quantitative"},"y":{"field":"v","type":"quantitative"},"stroke":{"field":"s","type":"nominal","scale":{"domain":["upper","last","ma","lower"],"range":["#3a8a3a","#000000","#d03030","#3a8a3a"]},"legend":null}}},
  {"data":{"values":[{"v":1326.5,"label":"1326.50"},{"v":1315.57,"label":"1315.57"},{"v":1313.7,"label":"1314.20"},{"v":1304.14,"label":"1304.14"}]},"mark":{"type":"text","fontSize":6.3,"color":"#111","xOffset":13},"encoding":{"x":{"datum":34.05,"type":"quantitative"},"y":{"field":"v","type":"quantitative"},"text":{"field":"label"}}}
 ]},
{"width":444,"height":12,"view":{"stroke":null,"fill":null},"data":{"values":[]},"mark":"point"},
{"width":444,"height":37,
 "resolve":{"scale":{"y":"independent"}},
 "layer":[
  {"data":{"values":[{"lvl":80},{"lvl":20}]},"mark":{"type":"rule","color":"#777","strokeWidth":1},"encoding":{"y":{"field":"lvl","type":"quantitative","scale":{"domain":[-11,104],"nice":false,"zero":false},"axis":{"orient":"right","values":[50,80],"format":"d","labelOverlap":false,"tickCount":200}}}},
  {"data":{"values":[{"lvl":50}]},"mark":{"type":"rule","color":"#444","strokeWidth":1,"strokeDash":[6,2,1,2]},"encoding":{"y":{"field":"lvl","type":"quantitative","scale":{"domain":[-11,104],"nice":false,"zero":false},"axis":null}}},
  {"data":{"values":[{"level":"161.8%","price":1295.55}]},"mark":{"type":"rule","color":"#4a5ae0","strokeWidth":1},"encoding":{"x":{"datum":2.58,"type":"quantitative","scale":{"domain":[-0.1,34.05],"nice":false,"zero":false},"axis":null},"x2":{"datum":19.19},"y":{"field":"price","type":"quantitative","scale":{"domain":[1292.55,1300.94],"nice":false,"zero":false},"axis":null}}},
  {"data":{"values":[{"level":"161.8%","price":1295.55}]},"transform":[{"calculate":"datum.level + ': ' + format(datum.price, '.2f')","as":"label"}],"mark":{"type":"text","align":"right","baseline":"bottom","dy":-1,"fontSize":6.3,"color":"#8a8aa6"},"encoding":{"x":{"datum":19.19,"type":"quantitative"},"y":{"field":"price","type":"quantitative","scale":{"domain":[1292.55,1300.94],"nice":false,"zero":false},"axis":null},"text":{"field":"label"}}},
  {"data":{"name":"osc"},"mark":{"type":"line","strokeWidth":1.2},"encoding":{"x":{"field":"t","type":"quantitative"},"y":{"field":"v","type":"quantitative","scale":{"domain":[-11,104],"nice":false,"zero":false},"axis":null},"color":{"field":"s","type":"nominal","scale":{"domain":["fast","slow"],"range":["#2b3a66","#a77a86"]},"legend":null}}},
  {"data":{"values":[{"v":28,"label":"38.24"}]},"mark":{"type":"point","shape":"M-1,-0.32L1,-0.32L1,0.32L-1,0.32Z","size":600,"filled":false,"fill":"white","fillOpacity":1,"stroke":"#222","strokeWidth":1,"opacity":1,"xOffset":13},"encoding":{"x":{"datum":34.05,"type":"quantitative"},"y":{"field":"v","type":"quantitative","scale":{"domain":[-11,104],"nice":false,"zero":false},"axis":null}}},
  {"data":{"values":[{"v":28,"label":"38.24"}]},"mark":{"type":"text","fontSize":6.3,"color":"#111","xOffset":13},"encoding":{"x":{"datum":34.05,"type":"quantitative"},"y":{"field":"v","type":"quantitative","scale":{"domain":[-11,104],"nice":false,"zero":false},"axis":null},"text":{"field":"label"}}}
 ]},
{"width":444,"height":38,
 "layer":[
  {"data":{"values":[{"lvl":0}]},"mark":{"type":"rule","color":"#999","strokeWidth":1},"encoding":{"y":{"field":"lvl","type":"quantitative","scale":{"domain":[-2.86,3.67],"nice":false,"zero":false},"axis":{"orient":"right","values":[-2,2],"format":"d","labelOverlap":false,"tickCount":200}}}},
  {"data":{"name":"hist"},"mark":{"type":"area","opacity":1},"encoding":{"x":{"field":"t","type":"quantitative","scale":{"domain":[-0.1,34.05],"nice":false,"zero":false},"axis":{"orient":"bottom","values":[0,1.5,2.5,3.5,4.5,5.5,6.5,8,9,10,11,12,13,14.5,15.5,16.5,17.5,18.5,19.5,21,22,23,24,25,26,27.5,28.5,29.5,30.5,31.5,32.5],"labelExpr":"datum.value % 6.5 == 0 ? ['26May','27May','31May','1Jun','2Jun','3Jun'][round(datum.value/6.5)] : (round(datum.value % 6.5 + 9.5) > 12 ? round(datum.value % 6.5 + 9.5) - 12 : round(datum.value % 6.5 + 9.5)) + ''","labelFontWeight":{"condition":{"test":"datum.value % 6.5 == 0","value":"bold"},"value":"normal"},"labelAlign":{"condition":{"test":"datum.value == 0","value":"left"},"value":"center"},"labelOffset":{"condition":{"test":"datum.value == 0","value":-9.3},"value":0},"labelPadding":1,"labelOverlap":false,"tickCount":200}},"y":{"field":"h","type":"quantitative","stack":null},"y2":{"datum":0},"color":{"field":"sign","type":"nominal","scale":{"domain":["pos","neg"],"range":["#6f7a30","#5e2452"]},"legend":null}}},
  {"data":{"name":"macd"},"mark":{"type":"line","strokeWidth":1.2,"interpolate":"monotone"},"encoding":{"x":{"field":"t","type":"quantitative"},"y":{"field":"v","type":"quantitative"},"stroke":{"field":"s","type":"nominal","scale":{"domain":["macd","signal"],"range":["#2b3a5c","#b58a98"]},"legend":null}}},
  {"data":{"values":[{"v":1.25,"label":"0.058"},{"v":-0.2,"label":"-0.029"}]},"mark":{"type":"point","shape":"M-1,-0.32L1,-0.32L1,0.32L-1,0.32Z","size":600,"filled":false,"fill":"#ffffdd","fillOpacity":1,"stroke":"#666","strokeWidth":1,"opacity":1,"xOffset":13},"encoding":{"x":{"datum":34.05,"type":"quantitative"},"y":{"field":"v","type":"quantitative"}}},
  {"data":{"values":[{"v":1.25,"label":"0.058"},{"v":-0.2,"label":"-0.029"}]},"mark":{"type":"text","fontSize":6.3,"color":"#111","xOffset":13},"encoding":{"x":{"datum":34.05,"type":"quantitative"},"y":{"field":"v","type":"quantitative"},"text":{"field":"label"}}}
 ]}
]
}
